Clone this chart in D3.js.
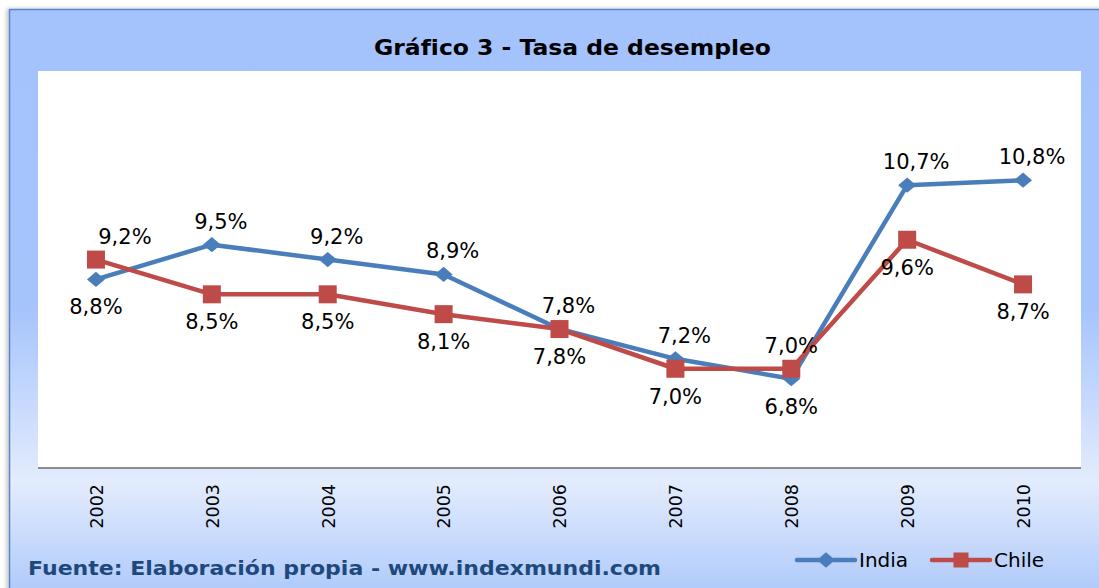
<!DOCTYPE html>
<html lang="es">

<head>
    <meta charset="utf-8">
    <title>Gráfico 3 - Tasa de desempleo</title>
    <style>
        body { margin: 0; background: #fff; }
        svg text { font-family: "DejaVu Sans", Verdana, sans-serif; }
        .label { font-size: 21px; fill: #000; }
        .tick-label { font-size: 17.5px; fill: #000; }
    </style>
</head>

<body>
    <script src="https://cdn.jsdelivr.net/npm/d3@7"></script>
    <script>
        // data
        const years = ['2002', '2003', '2004', '2005', '2006', '2007', '2008', '2009', '2010'];
        const india = [8.8, 9.5, 9.2, 8.9, 7.8, 7.2, 6.8, 10.7, 10.8];
        const chile = [9.2, 8.5, 8.5, 8.1, 7.8, 7.0, 7.0, 9.6, 8.7];
        // which side of the point each data label sits on
        const indiaSide = ['below', 'above', 'above', 'above', 'above', 'above', 'below', 'above', 'above'];
        const chileSide = ['above', 'below', 'below', 'below', 'below', 'below', 'above', 'below', 'below'];
        const yDomain = [5, 13];

        const width = 1099, height = 588;
        const plot = { left: 38, right: 1081, top: 71, bottom: 468 };

        const svg = d3.select('body').append('svg')
            .attr('width', width)
            .attr('height', height);

        const defs = svg.append('defs');
        const grad = defs.append('linearGradient')
            .attr('id', 'bg')
            .attr('x1', 0).attr('y1', 0).attr('x2', 0).attr('y2', 1);
        grad.append('stop').attr('offset', '0').attr('stop-color', '#a4c2fc');
        grad.append('stop').attr('offset', '0.5').attr('stop-color', '#a6c4fc');
        grad.append('stop').attr('offset', '0.79').attr('stop-color', '#e3ecfd');
        grad.append('stop').attr('offset', '1').attr('stop-color', '#a8c5fa');

        const shadow = defs.append('filter').attr('id', 'shadow')
            .attr('x', '-5%').attr('y', '-5%').attr('width', '110%').attr('height', '110%');
        shadow.append('feDropShadow')
            .attr('dx', -2).attr('dy', 0).attr('stdDeviation', 2)
            .attr('flood-color', '#000').attr('flood-opacity', 0.25);

        // chart area
        svg.append('rect')
            .attr('x', 9.5).attr('y', 9.5)
            .attr('width', width + 10).attr('height', height + 10)
            .attr('fill', 'url(#bg)')
            .attr('stroke', '#5b86c6')
            .attr('stroke-width', 1.5)
            .attr('filter', 'url(#shadow)');

        // plot area
        svg.append('rect')
            .attr('x', plot.left).attr('y', plot.top)
            .attr('width', plot.right - plot.left)
            .attr('height', plot.bottom - plot.top)
            .attr('fill', '#fff');

        const x = d3.scalePoint()
            .domain(years)
            .range([plot.left, plot.right])
            .padding(0.5);
        const y = d3.scaleLinear()
            .domain(yDomain)
            .range([plot.bottom, plot.top]);

        // x axis
        const xAxis = svg.append('g')
            .attr('transform', `translate(0, ${plot.bottom})`)
            .call(d3.axisBottom(x).tickSize(0).tickPadding(0));
        xAxis.select('.domain')
            .attr('d', `M${plot.left},0H${plot.right}`)
            .attr('stroke', '#8c8c8c')
            .attr('stroke-width', 2);
        xAxis.selectAll('.tick text')
            .attr('class', 'tick-label')
            .attr('font-size', null)
            .attr('font-family', null)
            .attr('text-anchor', 'end')
            .attr('transform', 'rotate(-90)')
            .attr('x', -16)
            .attr('y', 0)
            .attr('dy', '0.36em');

        // title
        svg.append('text')
            .attr('x', 374).attr('y', 55)
            .attr('font-weight', 'bold')
            .attr('font-size', '22px')
            .attr('fill', '#000')
            .attr('textLength', 397)
            .attr('lengthAdjust', 'spacingAndGlyphs')
            .text('Gráfico 3 - Tasa de desempleo');

        // source
        svg.append('text')
            .attr('x', 28).attr('y', 575)
            .attr('font-weight', 'bold')
            .attr('font-size', '19px')
            .attr('fill', '#1f497d')
            .attr('textLength', 633)
            .attr('lengthAdjust', 'spacingAndGlyphs')
            .text('Fuente: Elaboración propia - www.indexmundi.com');

        const series = [
            { name: 'India', values: india, side: indiaSide, color: '#4a7ebb', marker: 'diamond' },
            { name: 'Chile', values: chile, side: chileSide, color: '#be4b48', marker: 'square' }
        ];

        const line = d3.line()
            .x((d, i) => x(years[i]))
            .y(d => y(d));

        const fmt = v => d3.format('.1f')(v).replace('.', ',') + '%';

        const drawMarker = (g, type, color, s) => {
            if (type === 'diamond') {
                g.append('path')
                    .attr('d', `M0,${-s * 0.85}L${s},0L0,${s * 0.85}L${-s},0Z`)
                    .attr('fill', color);
            } else {
                g.append('rect')
                    .attr('x', -s).attr('y', -s)
                    .attr('width', 2 * s).attr('height', 2 * s)
                    .attr('fill', color);
            }
        };

        series.forEach(s => {
            svg.append('path')
                .datum(s.values)
                .attr('d', line)
                .attr('fill', 'none')
                .attr('stroke', s.color)
                .attr('stroke-width', 4.5)
                .attr('stroke-linejoin', 'round');
        });

        series.forEach(s => {
            s.values.forEach((v, i) => {
                const g = svg.append('g')
                    .attr('transform', `translate(${x(years[i])}, ${y(v)})`);
                drawMarker(g, s.marker, s.color, 9);
            });
        });

        // data labels (first-point labels above are pushed right, India labels above nudged a little)
        const labelDx = (s, i) => {
            if (s.side[i] !== 'above') return 0;
            if (i === 0) return 29;
            return s.name === 'India' ? 9 : 0;
        };
        series.forEach(s => {
            svg.append('g')
                .selectAll('text')
                .data(s.values)
                .join('text')
                .attr('class', 'label')
                .attr('text-anchor', 'middle')
                .attr('x', (d, i) => x(years[i]) + labelDx(s, i))
                .attr('y', (d, i) => y(d) + (s.side[i] === 'above' ? -16 : 35))
                .text(d => fmt(d));
        });

        // legend
        const legend = svg.append('g').attr('transform', 'translate(797, 560)');
        series.forEach((s, i) => {
            const g = legend.append('g').attr('transform', `translate(${i * 135}, 0)`);
            g.append('line')
                .attr('x1', 0).attr('x2', 58)
                .attr('stroke', s.color)
                .attr('stroke-width', 4.5)
                .attr('stroke-linecap', 'round');
            const m = g.append('g').attr('transform', 'translate(29, 0)');
            drawMarker(m, s.marker, s.color, s.marker === 'diamond' ? 9 : 7.5);
            g.append('text')
                .attr('x', 62).attr('y', 0)
                .attr('dy', '0.36em')
                .attr('font-size', '20px')
                .attr('fill', '#000')
                .text(s.name);
        });
    </script>
</body>

</html>
